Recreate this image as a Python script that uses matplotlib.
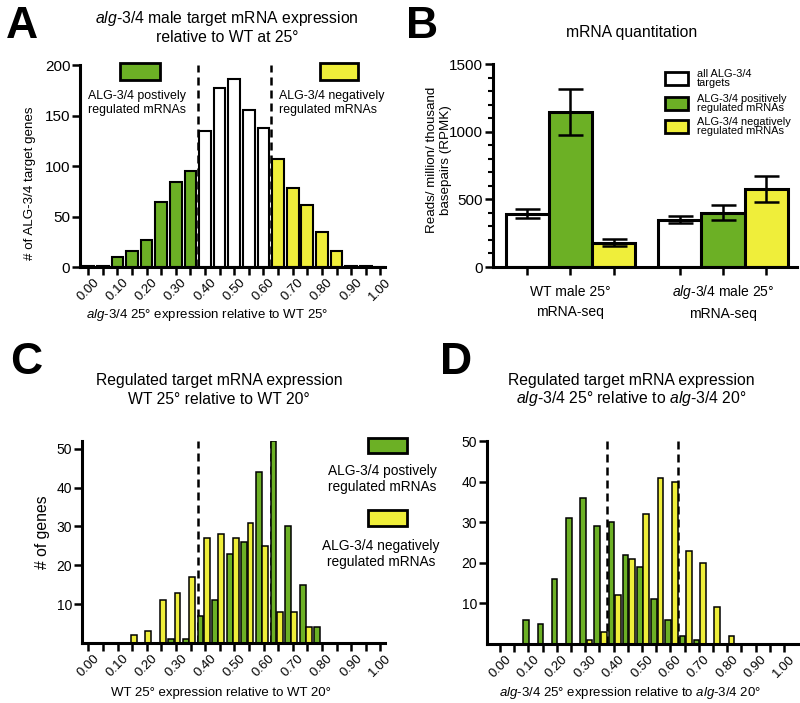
import numpy as np
import matplotlib.pyplot as plt
from matplotlib.patches import Rectangle

plt.rcParams.update({
    "font.family": ["Liberation Sans", "DejaVu Sans"],
    "mathtext.fontset": "custom",
    "mathtext.rm": "Liberation Sans",
    "mathtext.it": "Liberation Sans:italic",
    "axes.unicode_minus": False,
})

W, H = 800, 703
GREEN = "#6cb025"
YELLOW = "#efee3a"
ALG = r"$\mathit{alg}$-$\mathit{3/4}$"

# 直方图分组（相对表达量）
bins = [0.00, 0.05, 0.10, 0.15, 0.20, 0.25, 0.30, 0.35, 0.40, 0.45, 0.50,
        0.55, 0.60, 0.65, 0.70, 0.75, 0.80, 0.85, 0.90, 0.95, 1.00]

# A: alg-3/4 / WT 25°
a_counts = [1, 1, 10, 16, 27, 64, 84, 95, 135, 177, 186,
            155, 138, 107, 78, 61, 35, 16, 1, 1, 0]
cut_low, cut_high = 0.375, 0.625

# B: RPMK
b_groups = ["WT male 25°\nmRNA-seq", ALG + " male 25°\nmRNA-seq"]
b_series = ["all ALG-3/4\ntargets", "ALG-3/4 positively\nregulated mRNAs",
            "ALG-3/4 negatively\nregulated mRNAs"]
b_wt = [395, 1142, 180]
b_wt_err = [30, 170, 27]
b_alg = [350, 402, 577]
b_alg_err = [27, 58, 97]

# C: WT 25° / WT 20°
c_pos = [0, 0, 0, 0, 0, 0, 1, 1, 7, 11, 23, 26, 44, 52, 30, 15, 4, 0, 0, 0, 0]
c_neg = [0, 0, 0, 2, 3, 11, 13, 17, 27, 28, 27, 31, 25, 8, 8, 4, 0, 0, 0, 0, 0]

# D: alg-3/4 25° / alg-3/4 20°
d_pos = [0, 0, 6, 5, 16, 31, 36, 29, 30, 22, 19, 11, 6, 2, 1, 0, 0, 0, 0, 0, 0]
d_neg = [0, 0, 0, 0, 0, 0, 1, 3, 12, 21, 32, 41, 40, 23, 20, 9, 2, 0, 0, 0, 0]

fig = plt.figure(figsize=(W / 100, H / 100), dpi=100)


def axes_px(left, top, right, bottom):
    return fig.add_axes([left / W, 1 - bottom / H, (right - left) / W, (bottom - top) / H])


def text_px(x, y, s, **kw):
    kw.setdefault("ha", "center")
    kw.setdefault("va", "center")
    fig.text(x / W, 1 - y / H, s, **kw)


def box_px(left, top, right, bottom, color, lw=2.0):
    fig.add_artist(Rectangle((left / W, 1 - bottom / H), (right - left) / W, (bottom - top) / H,
                             transform=fig.transFigure, facecolor=color,
                             edgecolor="black", lw=lw))


def style(ax, labelsize=11):
    for s in ("top", "right"):
        ax.spines[s].set_visible(False)
    for s in ("left", "bottom"):
        ax.spines[s].set_linewidth(2.2)
    ax.tick_params(direction="out", length=6, width=1.8, labelsize=labelsize, pad=1)


def hist_xticks(ax):
    ax.set_xticks(bins)
    ax.set_xticklabels([f"{b:.2f}" if i % 2 == 0 else "" for i, b in enumerate(bins)],
                       rotation=45, ha="center", va="top", fontsize=9.5)


def cut_lines(ax):
    for x in (cut_low, cut_high):
        ax.axvline(x, color="black", lw=1.8, ls=(0, (3.2, 2)), zorder=1)


# ---------------- A ----------------
ax = axes_px(80, 65, 385, 267)
colors = [GREEN if b < cut_low else (YELLOW if b > cut_high else "white") for b in bins]
cut_lines(ax)
ax.bar(bins, a_counts, width=0.04, color=colors, edgecolor="black", lw=1.5, zorder=2)
ax.set_xlim(-0.028, 1.016)
ax.set_ylim(0, 200)
ax.set_yticks([0, 50, 100, 150, 200])
style(ax)
hist_xticks(ax)

text_px(22, 27, "A", fontsize=32, fontweight="bold")
text_px(227, 18, ALG + " male target mRNA expression", fontsize=11.3)
text_px(227, 37, "relative to WT at 25°", fontsize=11.3)
text_px(207, 315, ALG + " 25° expression relative to WT 25°", fontsize=9.5)
text_px(30, 183, "# of ALG-3/4 target genes", fontsize=9.6, rotation=90)
box_px(120, 63, 160, 80, GREEN)
box_px(320, 63, 358, 80, YELLOW)
text_px(88, 103, "ALG-3/4 postively\nregulated mRNAs", fontsize=8.9, ha="left", linespacing=1.15)
text_px(279, 103, "ALG-3/4 negatively\nregulated mRNAs", fontsize=8.9, ha="left", linespacing=1.15)

# ---------------- B ----------------
ax = axes_px(493, 64, 797, 267)
offsets = [0, 1, 2]
group_x = [0, 3.53]
fills = ["white", GREEN, YELLOW]
for gx, vals, errs in zip(group_x, [b_wt, b_alg], [b_wt_err, b_alg_err]):
    xs = [gx + o for o in offsets]
    ax.bar(xs, vals, width=1.0, color=fills, edgecolor="black", lw=2.2, zorder=2)
    ax.errorbar(xs, vals, yerr=errs, fmt="none", ecolor="black", elinewidth=1.8,
                capsize=9, capthick=1.8, zorder=3)
ax.set_xlim(-0.79, 6.24)
ax.set_ylim(0, 1500)
ax.set_yticks([0, 500, 1000, 1500])
ax.set_yticks(np.arange(0, 1501, 100), minor=True)
ax.set_xticks([gx + o for gx in group_x for o in offsets])
ax.set_xticklabels([])
style(ax)
ax.tick_params(which="minor", direction="out", length=3.5, width=1.5)

text_px(422, 27, "B", fontsize=32, fontweight="bold")
text_px(632, 33, "mRNA quantitation", fontsize=11.3)
for gx, lab in zip(group_x, b_groups):
    xp = 493 + (gx + 1 + 0.79) / (6.24 + 0.79) * (797 - 493)
    text_px(xp, 302, lab, fontsize=10, linespacing=1.6)
text_px(439, 160, "Reads/ million/ thousand\nbasepairs (RPMK)", fontsize=9.6,
        rotation=90, linespacing=1.3)
for (top, bot), fc, lab in zip([(72, 85), (97, 110), (120, 133)], fills, b_series):
    box_px(665, top, 688, bot, fc)
    text_px(697, (top + bot) / 2, lab, fontsize=7.9, ha="left", linespacing=0.95)

# ---------------- C ----------------
ax = axes_px(82, 441, 385, 643)
cut_lines(ax)
xs = np.array(bins)
ax.bar(xs - 0.016, c_pos, width=0.02, color=GREEN, edgecolor="black", lw=1.1, zorder=2)
ax.bar(xs + 0.005, c_neg, width=0.02, color=YELLOW, edgecolor="black", lw=1.1, zorder=2)
ax.set_xlim(-0.022, 1.016)
ax.set_ylim(0, 52)
ax.set_yticks([10, 20, 30, 40, 50])
style(ax, labelsize=10)
hist_xticks(ax)

text_px(26, 362, "C", fontsize=32, fontweight="bold")
text_px(219, 381, "Regulated target mRNA expression", fontsize=11.3)
text_px(219, 400, "WT 25° relative to WT 20°", fontsize=11.3)
text_px(221, 693, "WT 25° expression relative to WT 20°", fontsize=9.5)
text_px(43, 532, "# of genes", fontsize=11.3, rotation=90)

# ---------------- D ----------------
ax = axes_px(487, 441, 798, 644)
cut_lines(ax)
ax.bar(xs - 0.008, d_pos, width=0.02, color=GREEN, edgecolor="black", lw=1.1, zorder=2)
ax.bar(xs + 0.015, d_neg, width=0.02, color=YELLOW, edgecolor="black", lw=1.1, zorder=2)
ax.set_xlim(-0.046, 1.049)
ax.set_ylim(0, 50)
ax.set_yticks([10, 20, 30, 40, 50])
style(ax, labelsize=10)
hist_xticks(ax)

text_px(456, 362, "D", fontsize=32, fontweight="bold")
text_px(631, 380, "Regulated target mRNA expression", fontsize=11.3)
text_px(631, 399, ALG + " 25° relative to " + ALG + " 20°", fontsize=11.3)
text_px(630, 693, ALG + " 25° expression relative to " + ALG + " 20°", fontsize=9.5)

# C/D 共用图例
box_px(368, 438, 407, 453, GREEN)
text_px(382, 479, "ALG-3/4 postively\nregulated mRNAs", fontsize=9.9, linespacing=1.2)
box_px(368, 510, 407, 526, YELLOW)
text_px(381, 554, "ALG-3/4 negatively\nregulated mRNAs", fontsize=9.9, linespacing=1.2)

fig.savefig("out.png", dpi=100)
